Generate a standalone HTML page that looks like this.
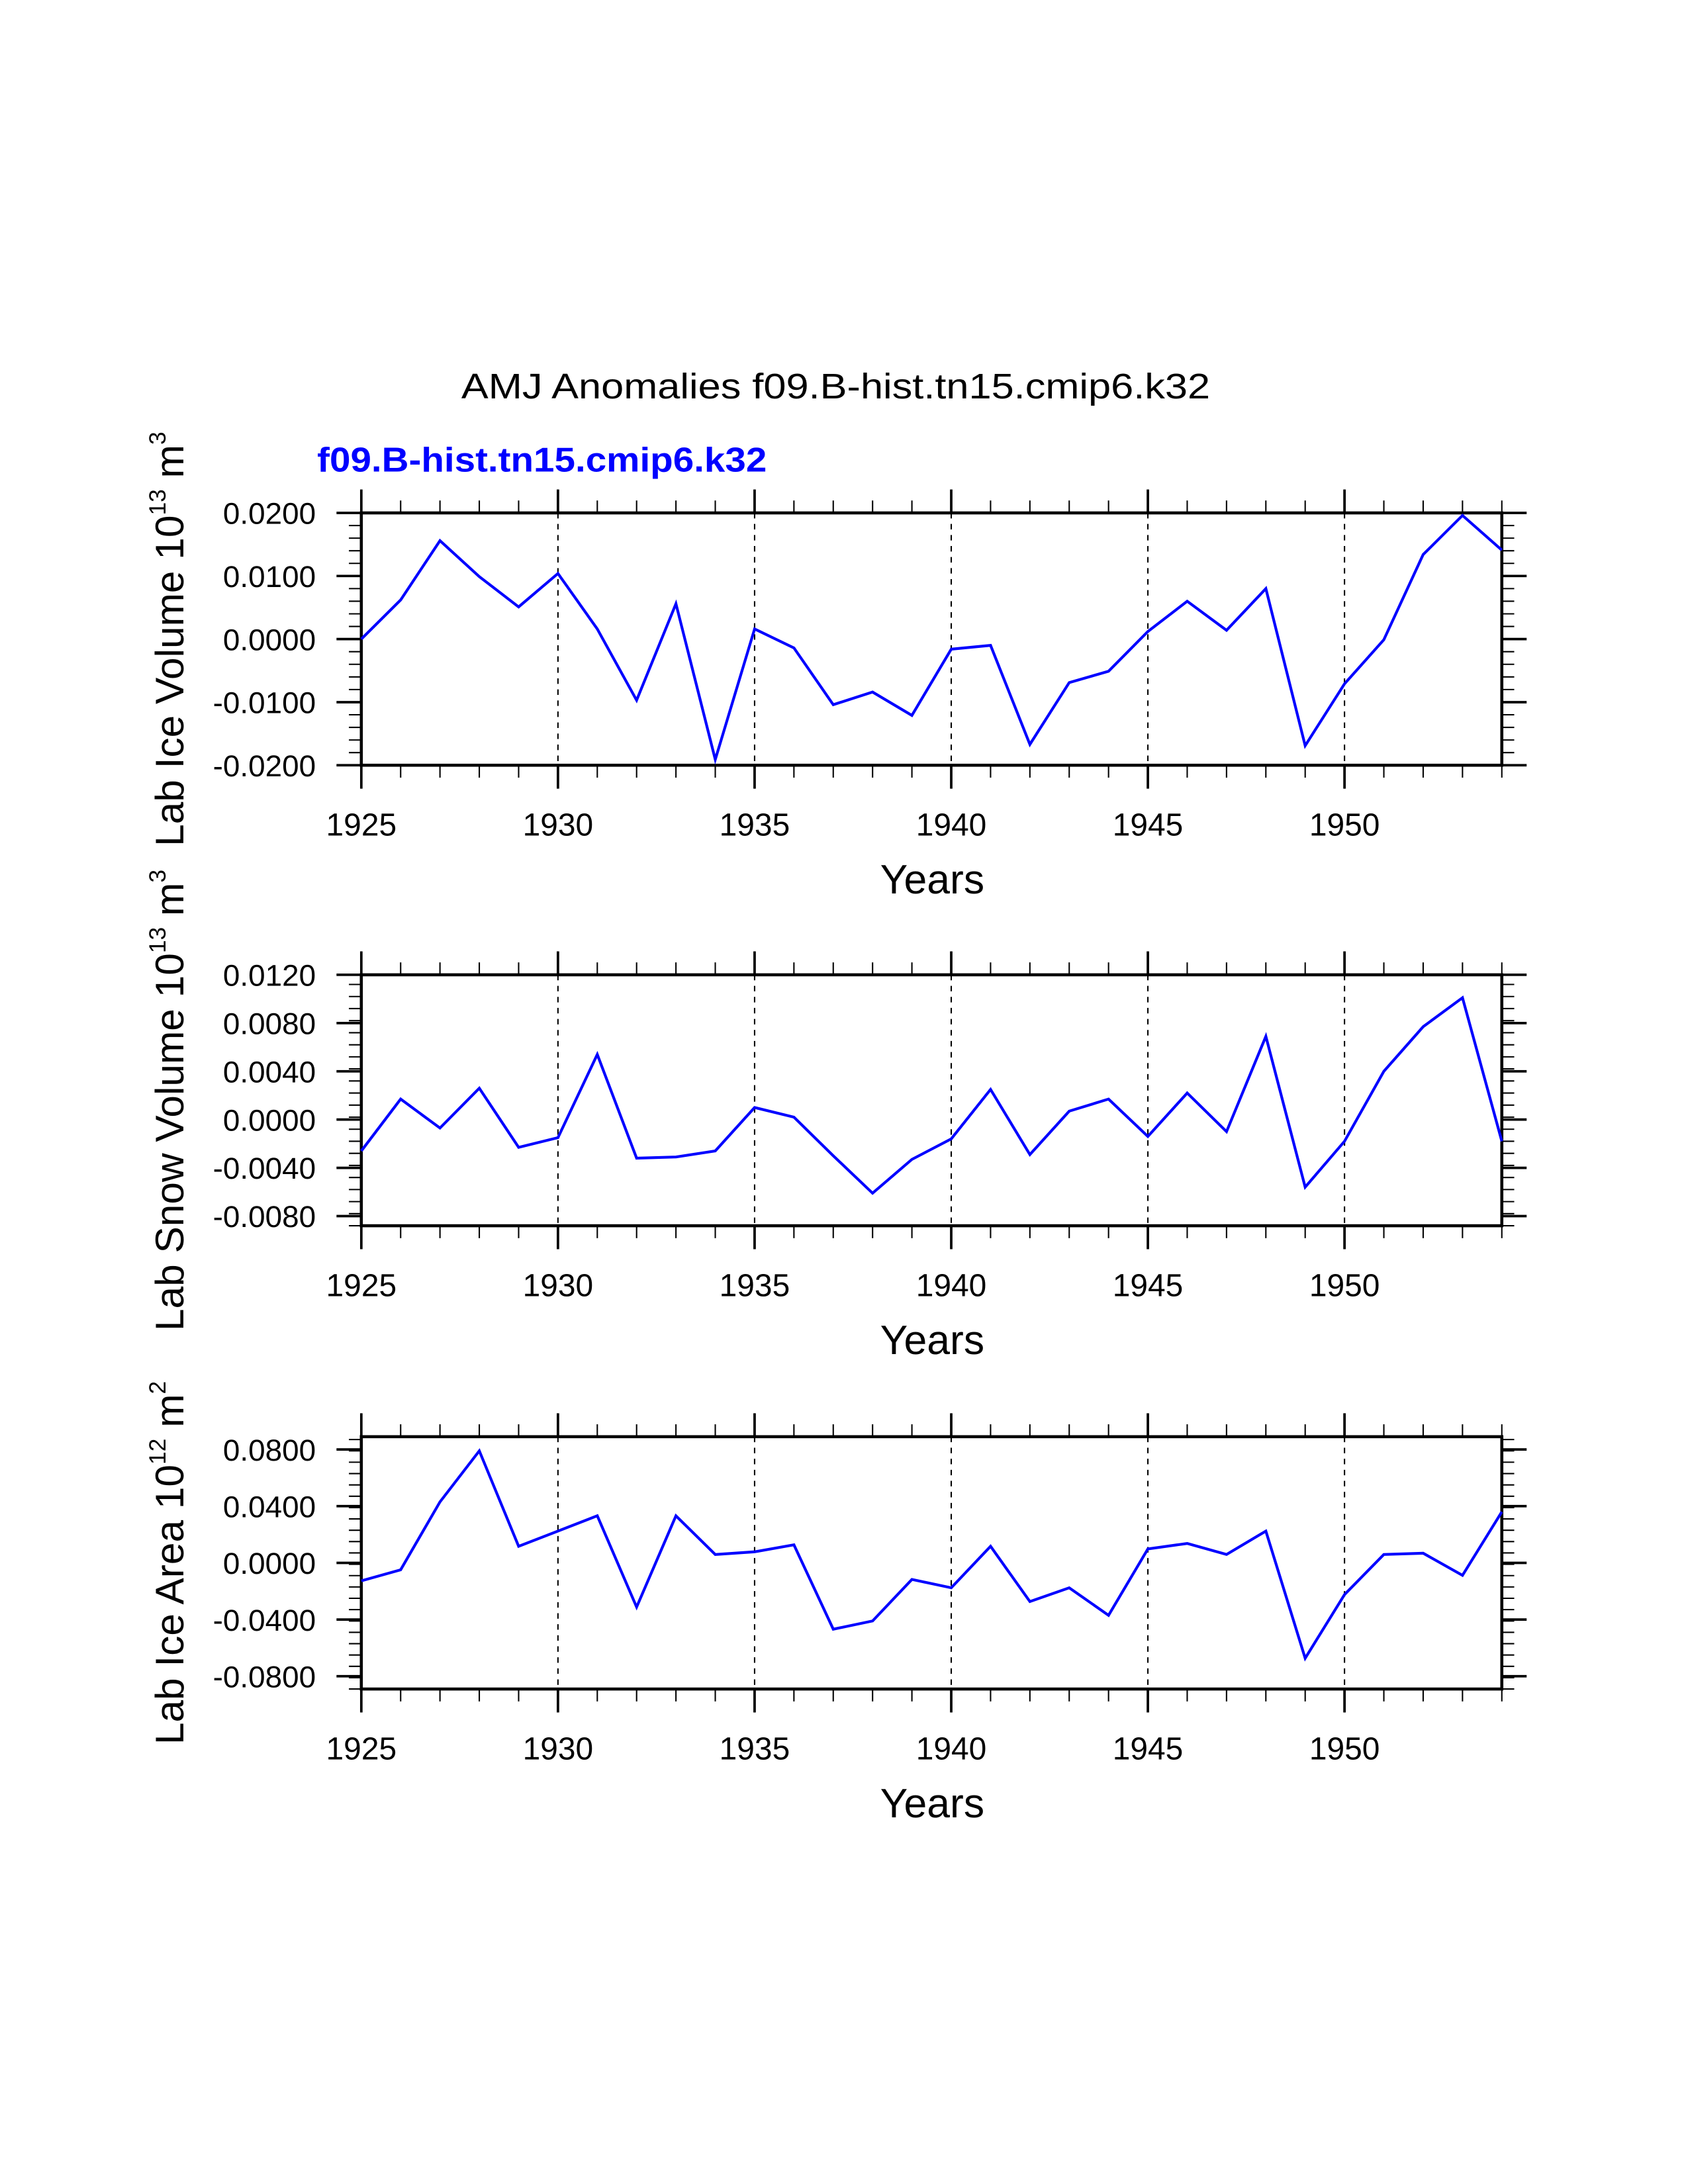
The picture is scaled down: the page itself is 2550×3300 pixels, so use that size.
<!DOCTYPE html>
<html><head><meta charset="utf-8"><style>
html,body{margin:0;padding:0;background:#fff;}
svg{display:block;font-family:"Liberation Sans",sans-serif;}
</style></head><body>
<svg id="chart" width="2550" height="3300" viewBox="0 0 1224 1584" xmlns="http://www.w3.org/2000/svg">
<rect width="1224" height="1584" fill="#fff"/>
<text x="606" y="289" font-size="26" text-anchor="middle" textLength="543" lengthAdjust="spacingAndGlyphs">AMJ Anomalies f09.B-hist.tn15.cmip6.k32</text>
<text x="230" y="342" font-size="25" font-weight="bold" fill="#0000ff" textLength="326" lengthAdjust="spacingAndGlyphs">f09.B-hist.tn15.cmip6.k32</text>
<g id="panels"></g>
</svg>
<script>
const years = [1925,1926,1927,1928,1929,1930,1931,1932,1933,1934,1935,1936,1937,1938,1939,1940,1941,1942,1943,1944,1945,1946,1947,1948,1949,1950,1951,1952,1953,1954];
const iceVolume = [0.0000,0.0062,0.0156,0.0099,0.0051,0.0104,0.0016,-0.0097,0.0056,-0.0191,0.0016,-0.0014,-0.0104,-0.0084,-0.0121,-0.0016,-0.0010,-0.0167,-0.0069,-0.0051,0.0012,0.0060,0.0014,0.0080,-0.0169,-0.0071,-0.0001,0.0134,0.0196,0.0141];
const snowVolume = [-0.0026,0.0017,-0.0007,0.0026,-0.0023,-0.0015,0.0054,-0.0032,-0.0031,-0.0026,0.0010,0.0002,-0.0030,-0.0061,-0.0033,-0.0016,0.0025,-0.0029,0.0007,0.0017,-0.0014,0.0022,-0.0010,0.0069,-0.0056,-0.0018,0.0040,0.0077,0.0101,-0.0018];
const iceArea = [-0.0127,-0.0049,0.043,0.079,0.0117,0.0224,0.0332,-0.0312,0.0332,0.0059,0.0078,0.0127,-0.0468,-0.041,-0.0117,-0.0176,0.0117,-0.0273,-0.0176,-0.037,0.0098,0.0137,0.0059,0.0224,-0.0673,-0.0224,0.0059,0.0068,-0.0088,0.036];
const xTickLabels = ["1925","1930","1935","1940","1945","1950"];
const iceVolTicks = [-0.02,-0.01,0,0.01,0.02];
const iceVolTickLabels = ["-0.0200","-0.0100","0.0000","0.0100","0.0200"];
const snowTicks = [-0.008,-0.004,0,0.004,0.008,0.012];
const snowTickLabels = ["-0.0080","-0.0040","0.0000","0.0040","0.0080","0.0120"];
const areaTicks = [-0.08,-0.04,0,0.04,0.08];
const areaTickLabels = ["-0.0800","-0.0400","0.0000","0.0400","0.0800"];

const NS="http://www.w3.org/2000/svg";
const root=document.getElementById('panels');
function mk(tag,attrs,parent){const e=document.createElementNS(NS,tag);for(const k in attrs)e.setAttribute(k,attrs[k]);(parent||root).appendChild(e);return e;}

const X0=262,X1=1089,xmin=1925,xmax=1954;
function xs(v){return X0+(v-xmin)/(xmax-xmin)*(X1-X0);}

function panel(cfg){
  const g=mk('g',{});
  
  
  const T=cfg.top,B=cfg.bottom;
  function ys(v){return B-(v-cfg.ymin)/(cfg.ymax-cfg.ymin)*(B-T);}
  for(let y=1930;y<=1950;y+=5){
    const l=mk('line',{x1:xs(y),x2:xs(y),y1:T,y2:B,stroke:'#000','stroke-width':1,'stroke-dasharray':'4,4'},g);
    
    
  }
  for(let y=xmin;y<=xmax;y++){
    const major=(y%5===0);const L=major?17:9;
    mk('line',{x1:xs(y),x2:xs(y),y1:T,y2:T-L,stroke:'#000','stroke-width':major?1.8:1},g);
    mk('line',{x1:xs(y),x2:xs(y),y1:B,y2:B+L,stroke:'#000','stroke-width':major?1.8:1},g);
  }
  xTickLabels.forEach(s=>{
    const t=mk('text',{x:xs(+s),y:B+51,'font-size':23,'text-anchor':'middle'},g);
    
    
    t.textContent=s;
  });
  for(let v=cfg.ymin;v<=cfg.ymax+1e-9;v+=cfg.minor){
    const yy=ys(v); if(yy<T-0.5||yy>B+0.5) continue;
    mk('line',{x1:X0,x2:X0-9,y1:yy,y2:yy,stroke:'#000','stroke-width':1},g);
    mk('line',{x1:X1,x2:X1+9,y1:yy,y2:yy,stroke:'#000','stroke-width':1},g);
  }
  cfg.ticks.forEach((v,i)=>{
    const yy=ys(v);
    mk('line',{x1:X0,x2:X0-18,y1:yy,y2:yy,stroke:'#000','stroke-width':1.8},g);
    mk('line',{x1:X1,x2:X1+18,y1:yy,y2:yy,stroke:'#000','stroke-width':1.8},g);
    const t=mk('text',{x:229,y:yy+8,'font-size':22,'text-anchor':'end'},g);
    
    
    t.textContent=cfg.tickLabels[i];
  });
  const fr=mk('rect',{x:X0,y:T,width:X1-X0,height:B-T,fill:'none',stroke:'#000','stroke-width':2.2},g);
  
  
  const pts=years.map((yr,i)=>xs(yr).toFixed(2)+','+ys(cfg.data[i]).toFixed(2)).join(' ');
  const pl=mk('polyline',{points:pts,fill:'none',stroke:'#0000ff','stroke-width':2,'stroke-linejoin':'miter'},g);
  
  
  const xt=mk('text',{x:676,y:B+93,'font-size':30,'text-anchor':'middle'},g);
  
  
  xt.textContent='Years';
  const cy=(T+B)/2+cfg.labelShift;
  const yt=mk('text',{x:0,y:0,'font-size':29,'text-anchor':'middle',transform:'translate(133,'+cy+') rotate(-90)'},g);
  
  
  const a=mk('tspan',{},yt);a.textContent=cfg.label+' 10';
  const s1=mk('tspan',{dy:-13,'font-size':17},yt);s1.textContent=cfg.exp1;
  const b=mk('tspan',{dy:13},yt);b.textContent=' m';
  const s2=mk('tspan',{dy:-13,'font-size':17},yt);s2.textContent=cfg.exp2;
}
panel({name:'ice-volume-panel',top:372,bottom:555,ymin:-0.02,ymax:0.02,minor:0.002,ticks:iceVolTicks,tickLabels:iceVolTickLabels,data:iceVolume,label:'Lab Ice Volume',exp1:'13',exp2:'3',labelShift:0});
panel({name:'snow-volume-panel',top:707,bottom:889,ymin:-0.0088,ymax:0.012,minor:0.001,ticks:snowTicks,tickLabels:snowTickLabels,data:snowVolume,label:'Lab Snow Volume',exp1:'13',exp2:'3',labelShift:0});
panel({name:'ice-area-panel',top:1042,bottom:1225,ymin:-0.089,ymax:0.089,minor:0.008,ticks:areaTicks,tickLabels:areaTickLabels,data:iceArea,label:'Lab Ice Area',exp1:'12',exp2:'2',labelShift:0});
</script>
</body></html>
